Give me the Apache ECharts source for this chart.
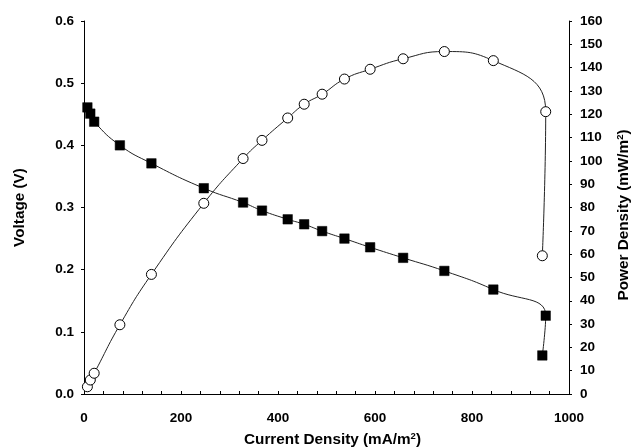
<!DOCTYPE html>
<html>
<head>
<meta charset="utf-8">
<script src="https://cdn.jsdelivr.net/npm/echarts@6/dist/echarts.min.js"></script>
<style>
  html, body { margin: 0; padding: 0; background: #fff; }
  #main { width: 636px; height: 448px; }
</style>
</head>
<body>
<div id="main"></div>
<script>
// 电流密度 (mA/m2)，两条曲线共用
var currentDensity = [7, 13, 21, 74, 139, 247, 328, 367, 420, 454, 491, 537, 590, 658, 743, 844, 952, 945]
// 电压 (V)
var voltage = [0.461, 0.451, 0.438, 0.400, 0.371, 0.331, 0.308, 0.295, 0.281, 0.273, 0.262, 0.250, 0.236, 0.219, 0.198, 0.168, 0.126, 0.062]
// 功率密度 (mW/m2)
var power = [3.1, 6.0, 8.9, 29.7, 51.3, 81.8, 101, 108.8, 118.4, 124.3, 128.6, 135.1, 139.3, 143.8, 146.9, 143.0, 121.1, 59.3]

var font = 'Liberation Sans, Arial, sans-serif'

function pairs(xs, ys) {
  return xs.map(function (x, i) { return [x, ys[i]] })
}

var labelStyle = { color: '#000', fontSize: 13.5, fontWeight: 'bold', fontFamily: font }
var nameRich = {
  t: { fontSize: 15.3, fontWeight: 'bold', fontFamily: font, color: '#000' },
  s: { fontSize: 9.5, fontWeight: 'bold', fontFamily: font, color: '#000', padding: [0, 0, 8, 0] }
}
var axisLine = { show: true, lineStyle: { color: '#000', width: 1 } }

var myChart = echarts.init(document.getElementById('main'))
var option = {
  animation: false,
  grid: { left: 84, right: 67, top: 21, bottom: 54, outerBoundsMode: 'none', containLabel: false },
  xAxis: {
    type: 'value',
    min: 0,
    max: 1000,
    interval: 200,
    name: '{t|Current Density (mA/m}{s|2}{t|)}',
    nameLocation: 'middle',
    nameGap: 37,
    nameTextStyle: { rich: nameRich, padding: [0, 0, 0, 12] },
    axisLine: axisLine,
    axisTick: { show: true, inside: true, length: 3, lineStyle: { color: '#000' } },
    minorTick: { show: true, splitNumber: 5, length: 3, lineStyle: { color: '#000' } },
    splitLine: { show: false },
    axisLabel: Object.assign({ margin: 17, formatter: function (v) { return String(v) } }, labelStyle)
  },
  yAxis: [
    {
      type: 'value',
      min: 0,
      max: 0.6,
      interval: 0.1,
      name: '{t|Voltage (V)}',
      nameLocation: 'middle',
      nameGap: 57,
      nameTextStyle: { rich: nameRich },
      axisLine: axisLine,
      axisTick: { show: true, length: 3, lineStyle: { color: '#000' } },
      splitLine: { show: false },
      axisLabel: Object.assign({ margin: 10, formatter: function (v) { return v.toFixed(1) } }, labelStyle)
    },
    {
      type: 'value',
      position: 'right',
      min: 0,
      max: 160,
      interval: 10,
      name: '{t|Power Density (mW/m}{s|2}{t|)}',
      nameLocation: 'middle',
      nameGap: 46,
      nameTextStyle: { rich: nameRich, padding: [0, 15, 0, 0] },
      axisLine: axisLine,
      axisTick: { show: true, length: 3, lineStyle: { color: '#000' } },
      splitLine: { show: false },
      axisLabel: Object.assign({ margin: 11 }, labelStyle)
    }
  ],
  series: [
    {
      name: 'Voltage',
      type: 'line',
      yAxisIndex: 0,
      data: pairs(currentDensity, voltage),
      smooth: 0.5,
      symbol: 'rect',
      symbolSize: 9.5,
      lineStyle: { color: '#222', width: 1 },
      itemStyle: { color: '#000', borderColor: '#000', borderWidth: 0.5 }
    },
    {
      name: 'Power',
      type: 'line',
      yAxisIndex: 1,
      data: pairs(currentDensity, power),
      smooth: 0.5,
      symbol: 'circle',
      symbolSize: 10,
      showAllSymbol: true,
      lineStyle: { color: '#222', width: 1 },
      itemStyle: { color: '#fff', borderColor: '#000', borderWidth: 1 }
    }
  ]
}
myChart.setOption(option)
</script>
</body>
</html>
